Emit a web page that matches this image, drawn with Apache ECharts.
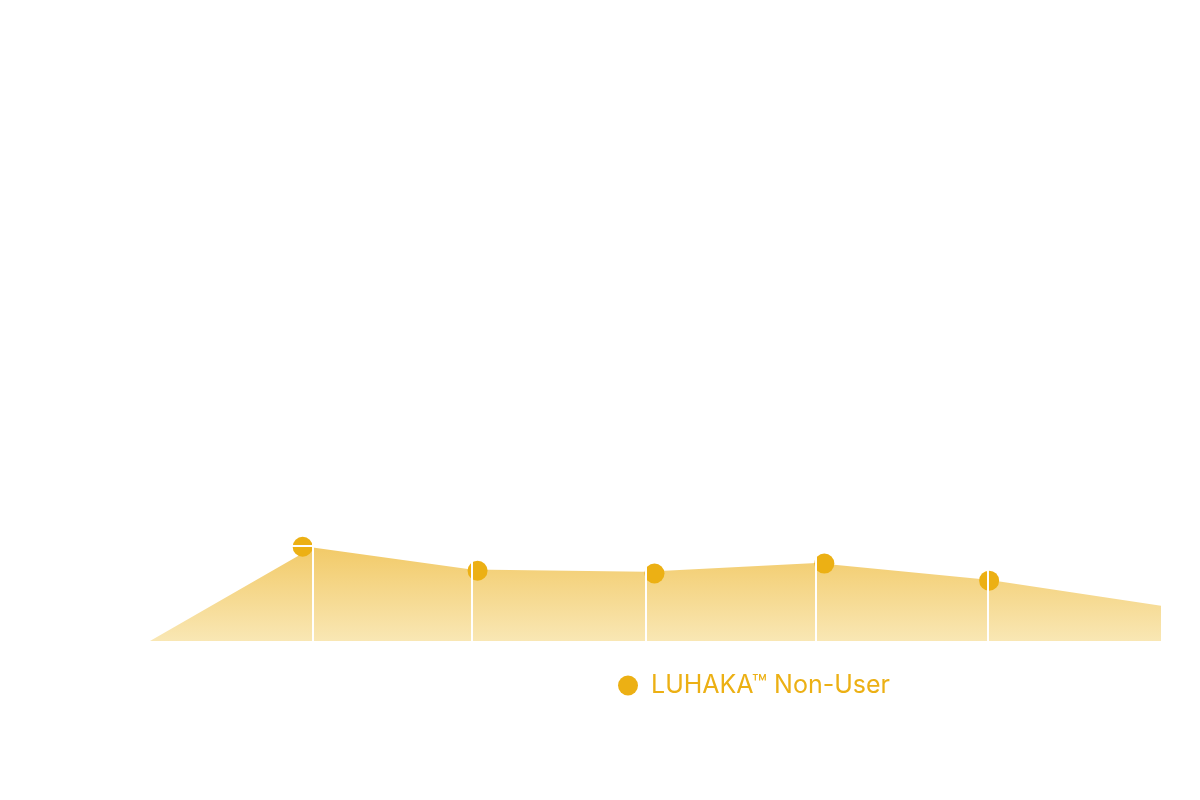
<!DOCTYPE html>
<html>
<head>
<meta charset="utf-8">
<script src="https://cdn.jsdelivr.net/npm/echarts@6/dist/echarts.min.js"></script>
<style>html,body{margin:0;padding:0;background:#fff}#c{width:1200px;height:800px}</style>
</head>
<body>
<div id="c"></div>
<script>
// Area outline (x position on 0-100 scale, value)
const areaX = [0, 16.1, 31.8, 49.0, 65.9, 82.9, 100];
const areaY = [0, 19.7, 15.05, 14.6, 16.4, 12.9, 7.4];
// Marker points of the series
const dotX = [15.1, 32.4, 49.9, 66.7, 83.0];
const dotY = [19.85, 14.8, 14.2, 16.3, 12.7];
// Grid lines
const vLines = [16.1, 31.8, 49.0, 65.9, 82.9];
const hLines = [20];
const seriesName = 'LUHAKA™ Non-User';

const mainColor = '#ECB014';

const chart = echarts.init(document.getElementById('c'));
chart.setOption({
  animation: false,
  backgroundColor: '#ffffff',
  grid: { left: 150, right: 39, top: 71, bottom: 159 },
  xAxis: { type: 'value', min: 0, max: 100, show: false, splitLine: { show: false } },
  yAxis: { type: 'value', min: 0, max: 120, interval: 20, show: false, splitLine: { show: false } },
  legend: {
    data: [seriesName],
    left: 613, top: 668,
    icon: 'circle', itemWidth: 20, itemHeight: 20,
    textStyle: { color: mainColor, fontSize: 25, fontFamily: 'Inter', padding: [0, 0, 0, 8] }
  },
  series: [
    {
      name: 'area', type: 'line', z: 1,
      data: areaX.map((x, i) => [x, areaY[i]]),
      showSymbol: false, symbol: 'none',
      lineStyle: { width: 0 },
      areaStyle: {
        opacity: 1,
        color: new echarts.graphic.LinearGradient(0, 0, 0, 1, [
          { offset: 0, color: 'rgb(242,202,104)' },
          { offset: 1, color: 'rgb(249,231,180)' }
        ])
      },
      silent: true
    },
    {
      name: seriesName, type: 'scatter', z: 3,
      data: dotX.map((x, i) => [x, dotY[i]]),
      symbol: 'circle', symbolSize: 20,
      itemStyle: { color: mainColor, opacity: 1 }
    },
    {
      name: 'grid', type: 'line', z: 10,
      data: areaX.map((x, i) => [x, areaY[i]]),
      showSymbol: false, symbol: 'none',
      lineStyle: { opacity: 0 },
      silent: true,
      markLine: {
        silent: true, symbol: ['none', 'none'],
        label: { show: false },
        lineStyle: { color: '#ffffff', width: 2, type: 'solid', opacity: 1 },
        data: vLines.map(v => ({ xAxis: v })).concat(hLines.map(v => ({ yAxis: v })))
      }
    }
  ]
});
</script>
</body>
</html>
